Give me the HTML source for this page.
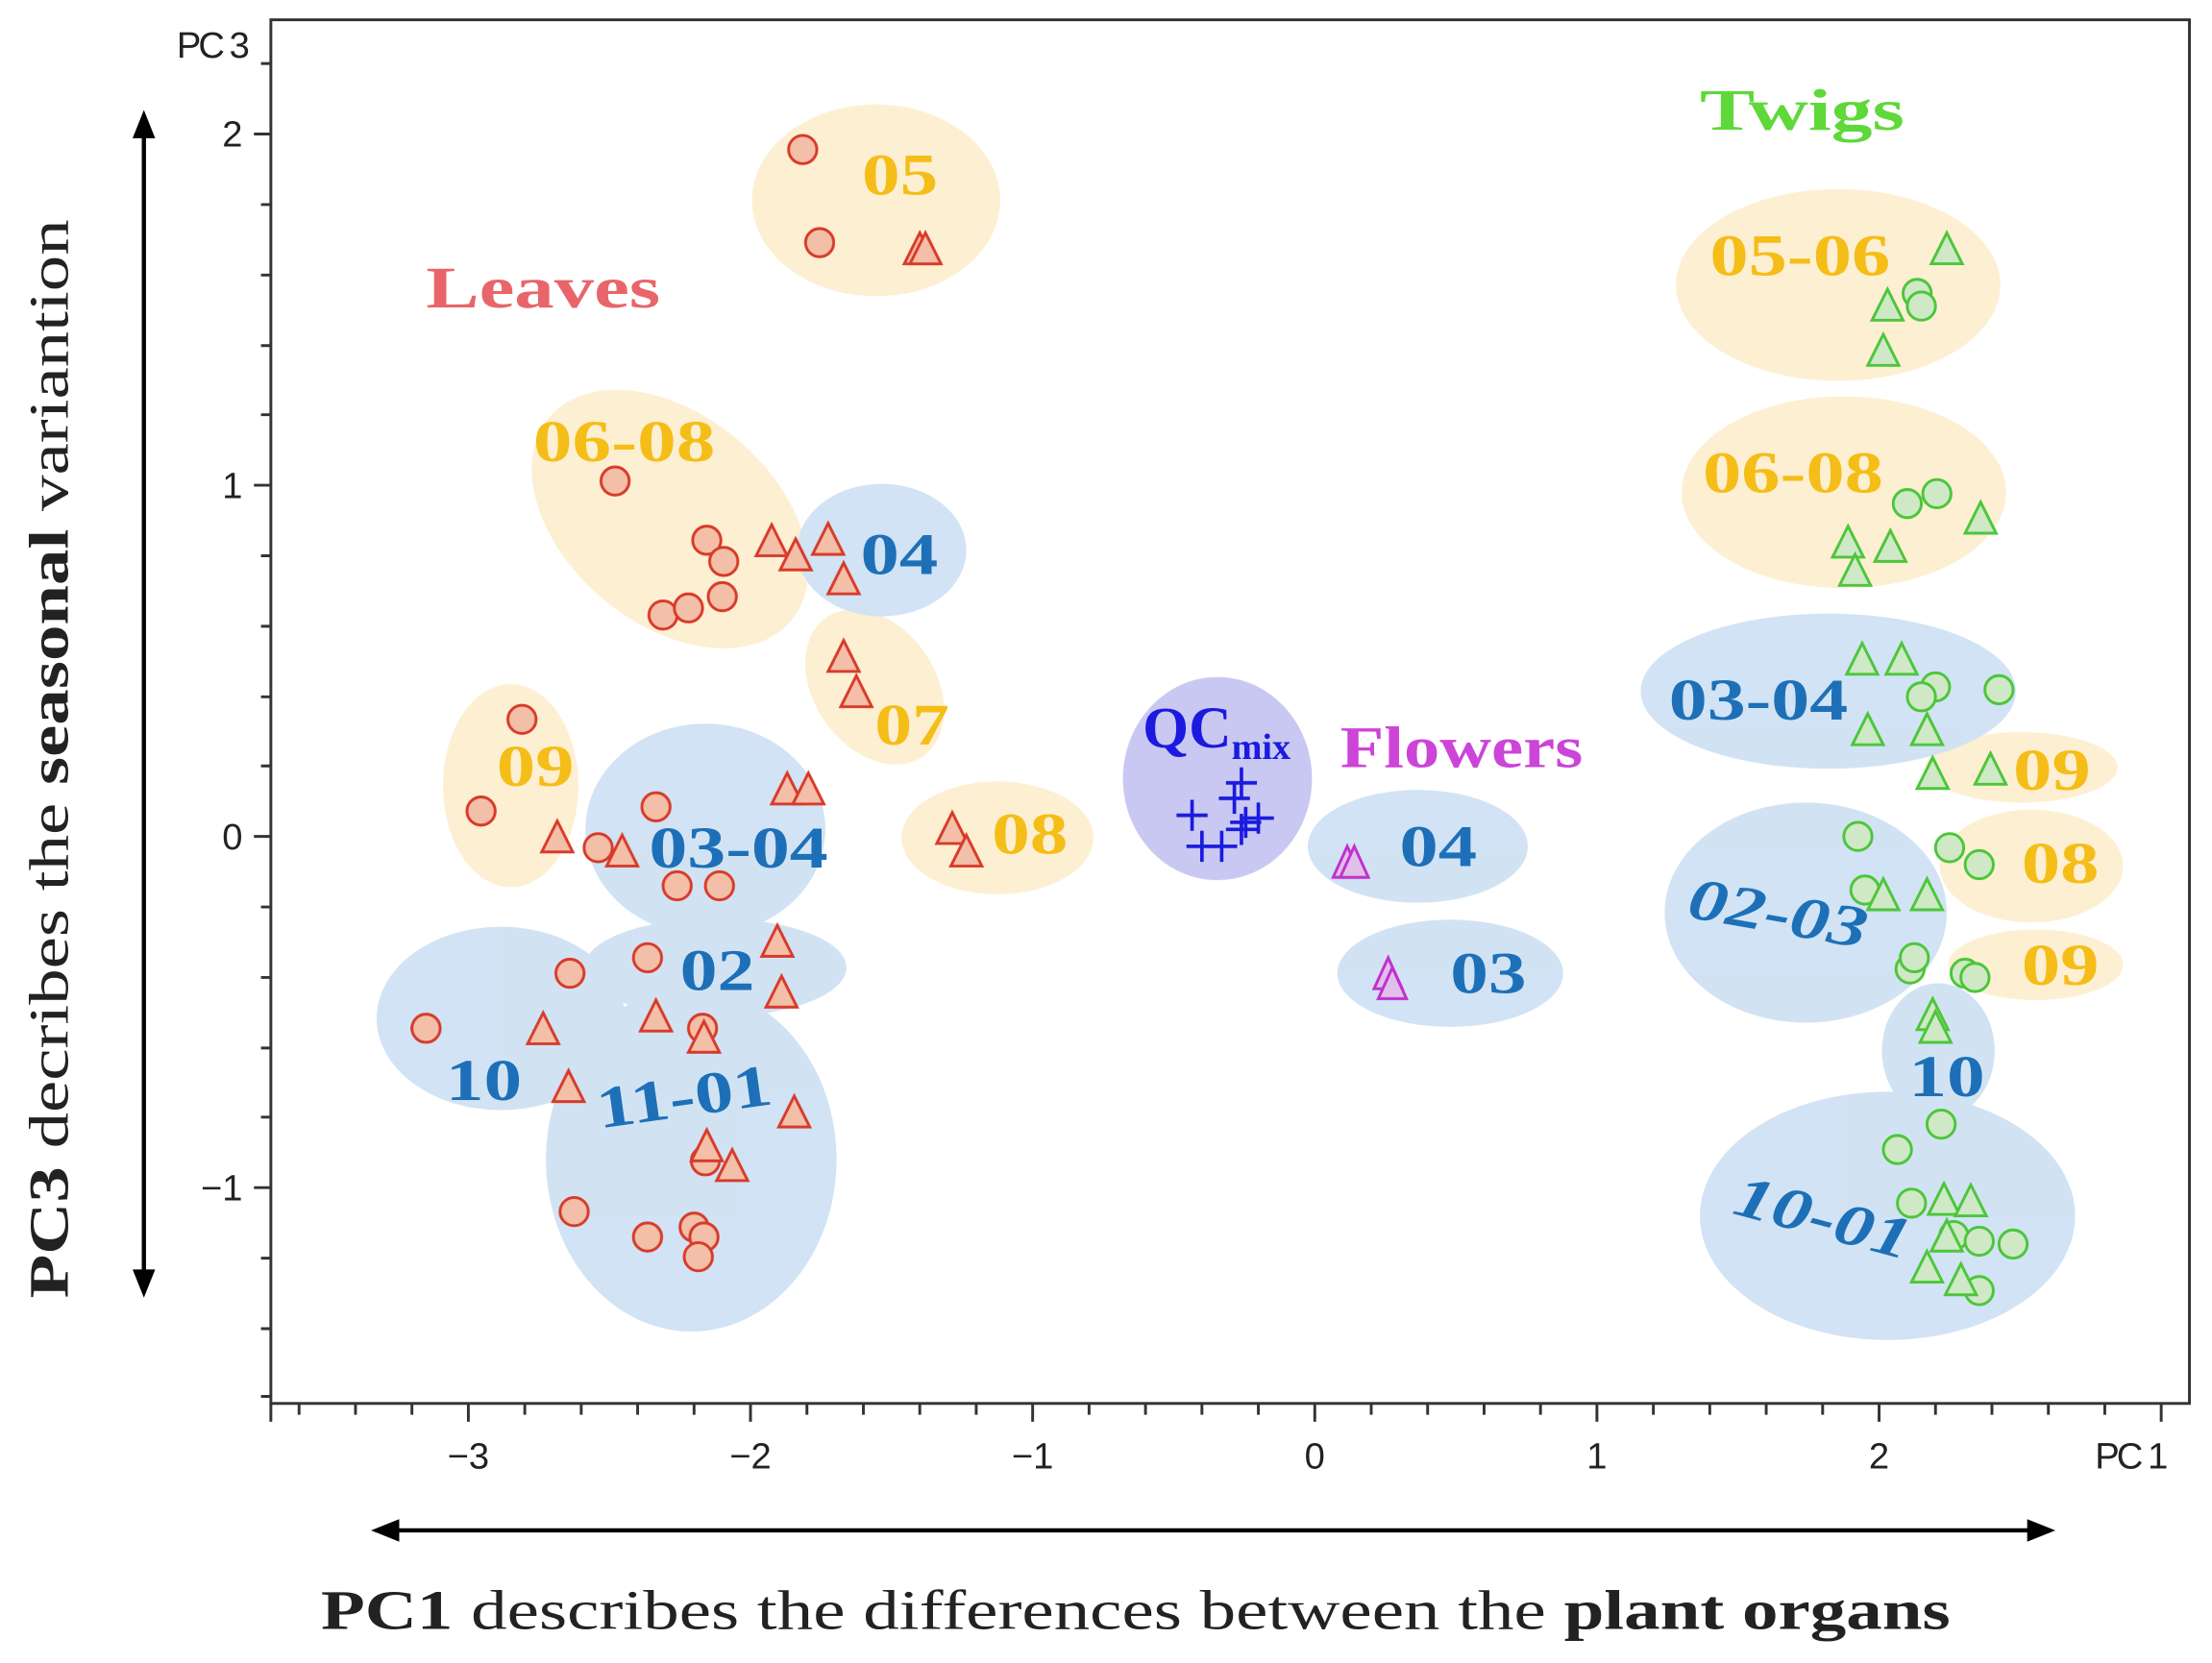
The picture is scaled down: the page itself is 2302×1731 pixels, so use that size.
<!DOCTYPE html>
<html><head><meta charset="utf-8"><style>html,body{margin:0;padding:0;background:#fff}svg{display:block}</style></head>
<body>
<svg width="2302" height="1731" viewBox="0 0 1568 1179" xmlns="http://www.w3.org/2000/svg">
<defs>
<symbol id="lc" overflow="visible"><circle r="10" fill="#f3bfa8" stroke="#d83a2a" stroke-width="2"/></symbol>
<symbol id="lt" overflow="visible"><path d="M0,-11 L11,11 L-11,11 Z" fill="#f3bfa8" stroke="#d83a2a" stroke-width="2"/></symbol>
<symbol id="gc" overflow="visible"><circle r="10" fill="#cfe8c6" stroke="#4cc63a" stroke-width="2"/></symbol>
<symbol id="gt" overflow="visible"><path d="M0,-11 L11,11 L-11,11 Z" fill="#cfe8c6" stroke="#4cc63a" stroke-width="2"/></symbol>
<symbol id="ft" overflow="visible"><path d="M0,-11 L10,11 L-10,11 Z" fill="#e0c0e8" stroke="#c030d0" stroke-width="2"/></symbol>
<symbol id="qp" overflow="visible"><path d="M-11,0 H11 M0,-11 V11" stroke="#1a1ae0" stroke-width="2.5"/></symbol>
</defs>
<rect x="192" y="14" width="1360" height="981" fill="#fff" stroke="#333" stroke-width="2"/>
<g fill="#fdefd0" opacity="0.95">
<ellipse cx="621" cy="142" rx="88" ry="68"/>
<ellipse cx="475" cy="368" rx="112" ry="74" transform="rotate(40 475 368)"/>
<ellipse cx="620" cy="487" rx="60" ry="43" transform="rotate(55 620 487)"/>
<ellipse cx="362" cy="557" rx="48" ry="72"/>
<ellipse cx="707" cy="594" rx="68" ry="40"/>
<ellipse cx="1303" cy="202" rx="115" ry="68"/>
<ellipse cx="1307" cy="349" rx="115" ry="68"/>
<ellipse cx="1433" cy="544" rx="68" ry="25"/>
<ellipse cx="1440" cy="614" rx="65" ry="40"/>
<ellipse cx="1443" cy="684" rx="62" ry="25"/>
</g>
<g fill="#cfe2f3" opacity="0.95">
<ellipse cx="625" cy="390" rx="60" ry="47"/>
<ellipse cx="500" cy="588" rx="85" ry="75"/>
<ellipse cx="507" cy="686" rx="93" ry="35"/>
<ellipse cx="355" cy="722" rx="88" ry="65"/>
<ellipse cx="490" cy="822" rx="103" ry="122"/>
<ellipse cx="1005" cy="600" rx="78" ry="40"/>
<ellipse cx="1028" cy="690" rx="80" ry="38"/>
<ellipse cx="1296" cy="490" rx="133" ry="55"/>
<ellipse cx="1280" cy="647" rx="100" ry="78"/>
<ellipse cx="1374" cy="745" rx="40" ry="48"/>
<ellipse cx="1338" cy="862" rx="133" ry="88"/>
</g>
<ellipse cx="863" cy="552" rx="67" ry="72" fill="#c8c8f2"/>
<g>
<use href="#lc" x="569" y="106"/><use href="#lc" x="581" y="172"/><use href="#lc" x="436" y="341"/><use href="#lc" x="501" y="383"/><use href="#lc" x="513" y="398"/><use href="#lc" x="470" y="436"/><use href="#lc" x="488" y="431"/><use href="#lc" x="512" y="423"/><use href="#lc" x="370" y="510"/><use href="#lc" x="341" y="575"/><use href="#lc" x="465" y="572"/><use href="#lc" x="424" y="601"/><use href="#lc" x="480" y="628"/><use href="#lc" x="510" y="628"/><use href="#lc" x="404" y="690"/><use href="#lc" x="459" y="679"/><use href="#lc" x="302" y="729"/><use href="#lc" x="498" y="729"/><use href="#lc" x="500" y="823"/><use href="#lc" x="407" y="859"/><use href="#lc" x="459" y="877"/><use href="#lc" x="492" y="870"/><use href="#lc" x="499" y="877"/><use href="#lc" x="495" y="891"/>
<use href="#lt" x="652" y="176"/><use href="#lt" x="656" y="176"/><use href="#lt" x="547" y="383"/><use href="#lt" x="564" y="393"/><use href="#lt" x="587" y="382"/><use href="#lt" x="598" y="410"/><use href="#lt" x="598" y="465"/><use href="#lt" x="607" y="490"/><use href="#lt" x="558" y="559"/><use href="#lt" x="573" y="559"/><use href="#lt" x="395" y="593"/><use href="#lt" x="441" y="603"/><use href="#lt" x="675" y="587"/><use href="#lt" x="685" y="603"/><use href="#lt" x="551" y="667"/><use href="#lt" x="554" y="703"/><use href="#lt" x="465" y="720"/><use href="#lt" x="385" y="729"/><use href="#lt" x="499" y="735"/><use href="#lt" x="403" y="770"/><use href="#lt" x="563" y="788"/><use href="#lt" x="501" y="812"/><use href="#lt" x="519" y="826"/>
<use href="#gc" x="1359" y="208"/><use href="#gc" x="1362" y="217"/><use href="#gc" x="1352" y="357"/><use href="#gc" x="1373" y="350"/><use href="#gc" x="1372" y="487"/><use href="#gc" x="1362" y="494"/><use href="#gc" x="1417" y="489"/><use href="#gc" x="1317" y="593"/><use href="#gc" x="1382" y="601"/><use href="#gc" x="1403" y="613"/><use href="#gc" x="1322" y="631"/><use href="#gc" x="1354" y="687"/><use href="#gc" x="1357" y="679"/><use href="#gc" x="1393" y="690"/><use href="#gc" x="1400" y="693"/><use href="#gc" x="1376" y="797"/><use href="#gc" x="1345" y="815"/><use href="#gc" x="1355" y="853"/><use href="#gc" x="1385" y="876"/><use href="#gc" x="1403" y="880"/><use href="#gc" x="1427" y="882"/><use href="#gc" x="1403" y="915"/>
<use href="#gt" x="1380" y="176"/><use href="#gt" x="1338" y="216"/><use href="#gt" x="1335" y="248"/><use href="#gt" x="1310" y="384"/><use href="#gt" x="1340" y="387"/><use href="#gt" x="1404" y="367"/><use href="#gt" x="1315" y="404"/><use href="#gt" x="1320" y="467"/><use href="#gt" x="1348" y="467"/><use href="#gt" x="1324" y="517"/><use href="#gt" x="1366" y="517"/><use href="#gt" x="1370" y="548"/><use href="#gt" x="1411" y="545"/><use href="#gt" x="1335" y="634"/><use href="#gt" x="1366" y="634"/><use href="#gt" x="1370" y="719"/><use href="#gt" x="1372" y="728"/><use href="#gt" x="1378" y="850"/><use href="#gt" x="1397" y="851"/><use href="#gt" x="1380" y="876"/><use href="#gt" x="1366" y="898"/><use href="#gt" x="1390" y="907"/>
<use href="#ft" x="955" y="611"/><use href="#ft" x="960" y="611"/><use href="#ft" x="984" y="690"/><use href="#ft" x="987" y="697"/>
<use href="#qp" x="880" y="555"/><use href="#qp" x="875" y="566"/><use href="#qp" x="845" y="578"/><use href="#qp" x="852" y="600"/><use href="#qp" x="866" y="600"/><use href="#qp" x="880" y="588"/><use href="#qp" x="892" y="580"/><use href="#qp" x="883" y="583"/>
</g>
<g font-family="Liberation Serif, serif" font-weight="bold" font-size="42" lengthAdjust="spacingAndGlyphs">
<text x="302" y="218" fill="#e8656a" textLength="166" lengthAdjust="spacingAndGlyphs">Leaves</text>
<text x="1205" y="92" fill="#5fd83a" textLength="145" lengthAdjust="spacingAndGlyphs">Twigs</text>
<text x="950" y="544" fill="#cc44d8" textLength="172" lengthAdjust="spacingAndGlyphs">Flowers</text>
<text x="810" y="530" fill="#1a1ae0">QC<tspan font-size="26" dy="8">mix</tspan></text>
<g fill="#f5bd18">
<text x="611" y="138" textLength="54" lengthAdjust="spacingAndGlyphs">05</text>
<text x="378" y="327" textLength="129" lengthAdjust="spacingAndGlyphs">06-08</text>
<text x="620" y="528" textLength="53" lengthAdjust="spacingAndGlyphs">07</text>
<text x="352" y="557" textLength="55" lengthAdjust="spacingAndGlyphs">09</text>
<text x="703" y="605" textLength="54" lengthAdjust="spacingAndGlyphs">08</text>
<text x="1212" y="195" textLength="128" lengthAdjust="spacingAndGlyphs">05-06</text>
<text x="1207" y="349" textLength="128" lengthAdjust="spacingAndGlyphs">06-08</text>
<text x="1427" y="560" textLength="55" lengthAdjust="spacingAndGlyphs">09</text>
<text x="1433" y="626" textLength="55" lengthAdjust="spacingAndGlyphs">08</text>
<text x="1433" y="698" textLength="55" lengthAdjust="spacingAndGlyphs">09</text>
</g>
<g fill="#1d70b8">
<text x="610" y="407" textLength="55" lengthAdjust="spacingAndGlyphs">04</text>
<text x="460" y="615" textLength="127" lengthAdjust="spacingAndGlyphs">03-04</text>
<text x="482" y="702" textLength="53" lengthAdjust="spacingAndGlyphs">02</text>
<text x="316" y="780" textLength="54" lengthAdjust="spacingAndGlyphs">10</text>
<text x="425" y="800" transform="rotate(-8 425 800)" textLength="125" lengthAdjust="spacingAndGlyphs">11-01</text>
<text x="992" y="614" textLength="55" lengthAdjust="spacingAndGlyphs">04</text>
<text x="1028" y="704" textLength="54" lengthAdjust="spacingAndGlyphs">03</text>
<text x="1183" y="510" textLength="127" lengthAdjust="spacingAndGlyphs">03-04</text>
<text x="1195" y="650" font-style="italic" transform="rotate(10 1195 650)" textLength="128" lengthAdjust="spacingAndGlyphs">02-03</text>
<text x="1353" y="777" textLength="54" lengthAdjust="spacingAndGlyphs">10</text>
<text x="1227" y="860" font-style="italic" transform="rotate(15 1227 860)" textLength="128" lengthAdjust="spacingAndGlyphs">10-01</text>
</g>
</g>
<g stroke="#333" stroke-width="2">
<path d="M192,995 V1008 M332,995 V1008 M532,995 V1008 M732,995 V1008 M932,995 V1008 M1132,995 V1008 M1332,995 V1008 M1532,995 V1008"/>
<path d="M212,995 V1003 M252,995 V1003 M292,995 V1003 M372,995 V1003 M412,995 V1003 M452,995 V1003 M492,995 V1003 M572,995 V1003 M612,995 V1003 M652,995 V1003 M692,995 V1003 M772,995 V1003 M812,995 V1003 M852,995 V1003 M892,995 V1003 M972,995 V1003 M1012,995 V1003 M1052,995 V1003 M1092,995 V1003 M1172,995 V1003 M1212,995 V1003 M1252,995 V1003 M1292,995 V1003 M1372,995 V1003 M1412,995 V1003 M1452,995 V1003 M1492,995 V1003"/>
<path d="M180,95 H192 M180,344 H192 M180,593 H192 M180,842 H192"/>
<path d="M185,45 H192 M185,145 H192 M185,195 H192 M185,245 H192 M185,294 H192 M185,394 H192 M185,444 H192 M185,494 H192 M185,543 H192 M185,643 H192 M185,693 H192 M185,743 H192 M185,792 H192 M185,892 H192 M185,942 H192 M185,990 H192"/>
</g>
<g font-family="Liberation Sans, sans-serif" font-size="26" fill="#222">
<text x="332" y="1041" text-anchor="middle">−3</text><text x="532" y="1041" text-anchor="middle">−2</text><text x="732" y="1041" text-anchor="middle">−1</text><text x="932" y="1041" text-anchor="middle">0</text><text x="1132" y="1041" text-anchor="middle">1</text><text x="1332" y="1041" text-anchor="middle">2</text>
<text x="1510" y="1041" text-anchor="middle" letter-spacing="-2">PC 1</text>
<text x="172" y="104" text-anchor="end">2</text><text x="172" y="353" text-anchor="end">1</text><text x="172" y="602" text-anchor="end">0</text><text x="172" y="851" text-anchor="end">−1</text>
<text x="175" y="41" text-anchor="end" letter-spacing="-2">PC 3</text>
</g>
<g stroke="#000" stroke-width="3"><line x1="102" y1="92" x2="102" y2="905"/><line x1="278" y1="1085" x2="1442" y2="1085"/></g>
<path d="M102,78 L94,98 L110,98 Z M102,920 L94,900 L110,900 Z M263,1085 L283,1077 L283,1093 Z M1457,1085 L1437,1077 L1437,1093 Z" fill="#000"/>
<text transform="translate(48 538) rotate(-90)" text-anchor="middle" font-family="Liberation Serif, serif" font-size="40" fill="#222" textLength="765" lengthAdjust="spacingAndGlyphs"><tspan font-weight="bold">PC3</tspan> decribes the <tspan font-weight="bold">seasonal</tspan> variantion</text>
<text x="805" y="1155" text-anchor="middle" font-family="Liberation Serif, serif" font-size="40" fill="#222" textLength="1155" lengthAdjust="spacingAndGlyphs"><tspan font-weight="bold">PC1</tspan> describes the differences between the <tspan font-weight="bold">plant organs</tspan></text>
</svg>
</body></html>
